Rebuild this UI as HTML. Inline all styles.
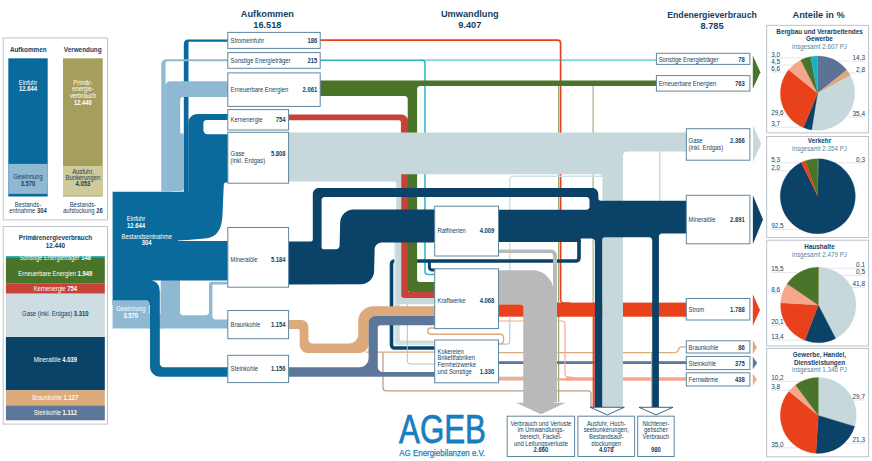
<!DOCTYPE html>
<html><head><meta charset="utf-8"><title>Energieflussbild</title>
<style>
html,body{margin:0;padding:0;background:#fff;}
body{width:872px;height:461px;overflow:hidden;font-family:"Liberation Sans",sans-serif;}
svg{display:block;font-family:"Liberation Sans",sans-serif;}
</style></head><body>
<svg width="872" height="461" viewBox="0 0 872 461">
<path d="M320,40.2 H557.6 a3,3 0 0 1 3,3 V299.5 a3.5,3.5 0 0 0 3.5,3.5 H570" fill="none" stroke="#e8411b" stroke-width="1.7" />
<path d="M320,60.3 H422 a3,3 0 0 1 3,3 V271.5 a3,3 0 0 0 3,3 H435" fill="none" stroke="#2bb4c6" stroke-width="1.5" />
<path d="M420,60.1 H657" fill="none" stroke="#2bb4c6" stroke-width="1.0" />
<path d="M558.7,85 V402" fill="none" stroke="#6f8b3e" stroke-width="0.9" />
<path d="M593.1,85 V305" fill="none" stroke="#8a9a62" stroke-width="0.9" />
<path d="M603,176.2 H513.3 a3.5,3.5 0 0 0 -3.5,3.5 V271" fill="none" stroke="#d0dfe2" stroke-width="1.5" />
<path d="M659.7,151 V201" fill="none" stroke="#cfdde1" stroke-width="1.6" />
<path d="M579,240 V258 a3,3 0 0 1 -3,3 H394.5 a3,3 0 0 0 -3,3 V345 a3,3 0 0 0 3,3 H435" fill="none" stroke="#0a4268" stroke-width="3.6" />
<path d="M429.4,261 V267.2 a2.8,2.8 0 0 0 2.8,2.8 H435" fill="none" stroke="#0a4268" stroke-width="3.0" />
<rect x="149.00" y="314.00" width="13.00" height="14.60" fill="#8fb9d3" />
<path d="M160.50,328.60 L160.50,280.00 L180.00,280.00 L180.00,312.30 C180.00,313.96 181.34,315.30 183.00,315.30 L206.00,315.30 C207.66,315.30 209.00,313.96 209.00,312.30 L209.00,284.30 C209.00,282.92 210.12,281.80 211.50,281.80 L228.00,281.80 L228.00,284.50 L213.40,284.50 C212.85,284.50 212.40,284.95 212.40,285.50 L212.40,316.40 C212.40,318.06 213.74,319.40 215.40,319.40 L228.00,319.40 L228.00,328.60 Z" fill="#8fb9d3" />
<path d="M228.00,39.50 L187.80,39.50 C185.59,39.50 183.80,41.29 183.80,43.50 L183.80,193.00 L188.50,193.00 L188.50,42.80 C188.50,42.25 188.95,41.80 189.50,41.80 L228.00,41.80 Z" fill="#0b6a9c" />
<path d="M228.00,114.10 L197.30,114.10 C192.33,114.10 188.30,118.13 188.30,123.10 L188.30,191.80 L112.60,191.80 L112.60,305.00 L150.00,305.00 L150.00,366.80 C150.00,372.32 154.48,376.80 160.00,376.80 L228.00,376.80 L228.00,367.20 L163.80,367.20 C161.59,367.20 159.80,365.41 159.80,363.20 L159.80,280.60 L228.00,280.60 L228.00,134.30 L207.40,134.30 C205.19,134.30 203.40,132.51 203.40,130.30 L203.40,123.00 C203.40,121.34 204.74,120.00 206.40,120.00 L228.00,120.00 Z" fill="#0b6a9c" />
<path d="M112.60,300.30 L146.50,300.30 C148.16,300.30 149.50,301.64 149.50,303.30 L149.50,328.60 L112.60,328.60 Z" fill="#8fb9d3" />
<path d="M228.5,182.6 L226,182.6 Q223.9,182.6 223.8,184.5 L222.9,204.7 C222.6,215 222.3,219 221.7,222 C220.8,227 219.8,229 218.6,230.7 C217,233.2 215.5,234.8 213.4,236 C210.5,237.7 208,238.3 204.7,238.6 L187.4,240 L178,240.5 L178,240.9 L228.5,240.9 Z" fill="#fff"/>
<path d="M151.5,280.6 L160.4,280.6 L160.4,291 L159.8,291 C159.8,285.5 157,281.6 151.5,280.6 Z" fill="#fff"/>
<path d="M228.00,59.30 L166.30,59.30 C163.54,59.30 161.30,61.54 161.30,64.30 L161.30,191.80 L165.50,191.80 L165.50,63.30 C165.50,62.20 166.40,61.30 167.50,61.30 L228.00,61.30 Z" fill="#8fb9d3" />
<path d="M228.00,81.20 L170.20,81.20 C167.44,81.20 165.20,83.44 165.20,86.20 L165.20,191.80 L172.00,191.80 L172.00,190.90 L181.00,190.90 C182.66,190.90 184.00,189.56 184.00,187.90 L184.00,135.00 C184.00,134.17 183.33,133.50 182.50,133.50 L181.70,133.50 C180.87,133.50 180.20,132.83 180.20,132.00 L180.20,99.90 C180.20,98.24 181.54,96.90 183.20,96.90 L228.00,96.90 Z" fill="#8fb9d3" />
<path d="M288.60,114.50 L401.20,114.50 C405.07,114.50 408.20,117.63 408.20,121.50 L408.20,291.80 L435.00,291.80 L435.00,298.00 L402.90,298.00 C401.80,298.00 400.90,297.10 400.90,296.00 L400.90,122.30 C400.90,121.20 400.00,120.30 398.90,120.30 L288.60,120.30 Z" fill="#c9423a" />
<path d="M320.00,80.50 L657.00,80.50 L657.00,86.00 L420.10,86.00 C418.44,86.00 417.10,87.34 417.10,89.00 L417.10,279.80 C417.10,281.02 418.08,282.00 419.30,282.00 L435.00,282.00 L435.00,291.90 L410.20,291.90 C408.82,291.90 407.70,290.78 407.70,289.40 L407.70,99.00 C407.70,97.34 406.36,96.00 404.70,96.00 L320.00,96.00 Z" fill="#4a7429" />
<path d="M394.20,240.00 L399.60,240.00 L399.60,339.30 C399.60,340.13 400.27,340.80 401.10,340.80 L435.00,340.80 L435.00,344.90 L397.20,344.90 C395.54,344.90 394.20,343.56 394.20,341.90 Z" fill="#d6e4e7" />
<path d="M396.40,240.00 L399.60,240.00 L399.60,339.30 C399.60,340.13 400.27,340.80 401.10,340.80 L435.00,340.80 L435.00,343.00 L398.40,343.00 C397.30,343.00 396.40,342.10 396.40,341.00 Z" fill="#cddcdf" />
<rect x="498.50" y="304.20" width="61.50" height="12.50" fill="#e8411b" />
<rect x="556.00" y="302.60" width="131.00" height="14.10" fill="#e8411b" />
<rect x="498.50" y="378.10" width="71.50" height="2.40" fill="#f5a78d" />
<rect x="566.00" y="377.20" width="121.00" height="3.50" fill="#f5a78d" />
<path d="M498.5,377.3 H525" fill="none" stroke="#b4b4b4" stroke-width="1.2" />
<rect x="498.50" y="361.20" width="188.50" height="2.80" fill="#5c7799" />
<path d="M498.5,352.6 H674 c3,0 4,-1 4.5,-3 c0.5,-2 1.5,-2.8 4,-2.8 H687" fill="none" stroke="#dcaa7b" stroke-width="1.3" />
<path d="M498.5,321 H561.5 a3.5,3.5 0 0 1 3.5,3.5 V373.5 a3.5,3.5 0 0 0 3.5,3.5 H572" fill="none" stroke="#f5a78d" stroke-width="1.2" />
<path d="M593.7,316 V407" fill="none" stroke="#e8411b" stroke-width="2.1" />
<path d="M651.7,353 V407" fill="none" stroke="#c4a98f" stroke-width="1.1" />
<path d="M509.8,316.5 V341.2 a3,3 0 0 1 -3,3 H498.5" fill="none" stroke="#b5d0d8" stroke-width="1.3" />
<path d="M435,328 H430.8 a3.1,3.1 0 0 0 0,6.2 H500.5 a3,3 0 0 1 3,3 V340.8 a3,3 0 0 1 -3,3 H498.5" fill="none" stroke="#dcaa7b" stroke-width="1.4" />
<path d="M407.3,304 V361 a3,3 0 0 0 3,3 H435" fill="none" stroke="#b8c2b4" stroke-width="1.0" />
<path d="M383,352 V387.8 a3,3 0 0 0 3,3 H588 a3,3 0 0 1 3,3 V407" fill="none" stroke="#b7a08c" stroke-width="1.3" />
<path d="M366,352.1 H435" fill="none" stroke="#dcaa7b" stroke-width="1.4" />
<path d="M288.60,132.60 L687.00,132.60 L687.00,151.50 L627.00,151.50 C624.79,151.50 623.00,153.29 623.00,155.50 L623.00,407.30 L602.00,407.30 L602.39,177.20 C602.40,175.54 601.06,174.20 599.40,174.20 L401.30,174.20 L401.30,295.50 C401.30,296.88 402.42,298.00 403.80,298.00 L435.00,298.00 L435.00,304.30 L398.80,304.30 C397.42,304.30 396.30,303.18 396.30,301.80 L396.30,183.40 C396.30,182.30 395.40,181.40 394.30,181.40 L288.60,181.40 Z" fill="#c6d8dc" />
<path d="M498.50,249.60 L551.00,249.60 C554.31,249.60 557.00,252.29 557.00,255.60 L557.00,402.30 L553.00,402.30 L553.00,255.40 C553.00,254.02 551.88,252.90 550.50,252.90 L498.50,252.90 Z" fill="#b9b9b9" />
<path d="M498.50,270.20 L532.50,270.20 C544.10,270.20 553.50,279.60 553.50,291.20 L553.50,402.80 L565.50,402.80 L541.00,414.30 L516.00,402.80 L523.30,402.80 L523.30,307.40 C523.30,305.74 521.96,304.40 520.30,304.40 L498.50,304.40 Z" fill="#b9b9b9" />
<path d="M288.60,241.60 L310.80,241.60 C311.90,241.60 312.80,240.70 312.80,239.60 L312.80,194.10 C312.80,190.79 315.49,188.10 318.80,188.10 L592.30,188.10 C595.61,188.10 598.30,190.79 598.30,194.10 L598.30,198.20 C598.30,199.58 599.42,200.70 600.80,200.70 L687.00,200.70 L687.00,233.40 L661.90,233.40 C660.24,233.40 658.90,234.74 658.90,236.40 L658.90,407.30 L652.20,407.30 L652.20,240.20 C652.20,238.54 650.86,237.20 649.20,237.20 L604.70,237.20 C603.32,237.20 602.20,238.32 602.20,239.70 L602.20,407.30 L594.90,407.30 L594.90,241.60 C594.90,239.94 593.56,238.60 591.90,238.60 L580.80,238.60 L580.80,241.90 L498.50,241.90 L498.50,209.70 L586.50,209.70 C588.16,209.70 589.50,208.36 589.50,206.70 L589.50,200.00 C589.50,198.34 588.16,197.00 586.50,197.00 L324.60,197.00 C322.94,197.00 321.60,198.34 321.60,200.00 L321.60,247.20 C321.60,248.30 322.50,249.20 323.60,249.20 L336.00,249.20 C337.93,249.20 339.54,247.63 339.59,245.70 L340.17,222.60 C340.35,215.42 346.32,209.60 353.50,209.60 L435.00,209.60 L435.00,242.40 L381.80,242.40 C377.93,242.40 374.73,245.53 374.63,249.40 L374.11,271.20 C373.94,278.38 367.98,284.22 360.80,284.25 L288.60,284.50 Z" fill="#0a4268" />
<path d="M288.60,319.90 L301.40,319.90 C305.27,319.90 308.40,323.03 308.40,326.90 L308.40,339.60 C308.40,341.81 310.19,343.60 312.40,343.60 L349.20,343.60 C354.17,343.60 358.20,339.57 358.20,334.60 L358.20,321.20 C358.20,312.92 364.92,306.20 373.20,306.20 L435.00,306.20 L435.00,316.20 L375.60,316.20 C371.73,316.20 368.60,319.33 368.60,323.20 L368.60,344.10 C368.60,349.07 364.57,353.10 359.60,353.10 L308.40,353.10 C303.59,353.10 299.70,349.21 299.70,344.40 L299.70,331.10 C299.70,330.00 298.80,329.10 297.70,329.10 L288.60,329.10 Z" fill="#dcaa7b" />
<path d="M288.60,367.20 L359.60,367.20 C364.57,367.20 368.60,363.17 368.60,358.20 L368.60,323.00 C368.60,319.13 371.73,316.00 375.60,316.00 L435.00,316.00 L435.00,325.30 L380.30,325.30 C378.92,325.30 377.80,326.42 377.80,327.80 L377.80,367.00 C377.80,369.76 380.04,372.00 382.80,372.00 L435.00,372.00 L435.00,376.80 L288.60,376.80 Z" fill="#5c7799" />
<path d="M590.2,407.3 H624.3 L607.3,414.9 Z" fill="#fff" stroke="#0a4268" stroke-width="0.8" stroke-linejoin="miter"/>
<path d="M639,407.3 H673 L656,414.9 Z" fill="#fff" stroke="#0a4268" stroke-width="0.8"/>
<path d="M752.8,55.6 L760.4,72.20 L752.8,88.8 Z" fill="#4a7429"/>
<path d="M753,125.5 L761.2,143.75 L753,162 Z" fill="#c6d8dc"/>
<path d="M752.9,195.3 L763,219.60 L752.9,243.9 Z" fill="#0a4268"/>
<path d="M752.8,294.3 L760,310.05 L752.8,325.8 Z" fill="#e8411b"/>
<path d="M752.8,340.1 L756.8,347.25 L752.8,354.4 Z" fill="#dcaa7b"/>
<path d="M752.8,356.8 L757.2,363.00 L752.8,369.2 Z" fill="#5c7799"/>
<path d="M752.8,373.5 L757,379.50 L752.8,385.5 Z" fill="#f5a78d"/>
<rect x="227.80" y="32.40" width="92.40" height="16.00" fill="#fff" stroke="#5f86a0" stroke-width="1"/>
<text transform="translate(230.60,42.60) scale(0.93,1)" font-size="6.3" text-anchor="start" fill="#123f63" >Stromeinfuhr</text>
<text transform="translate(317.20,42.60) scale(0.93,1)" font-size="6.3" text-anchor="end" fill="#123f63" font-weight="700" >186</text>
<rect x="227.80" y="52.60" width="92.40" height="15.70" fill="#fff" stroke="#5f86a0" stroke-width="1"/>
<text transform="translate(230.60,62.65) scale(0.93,1)" font-size="6.3" text-anchor="start" fill="#123f63" >Sonstige Energieträger</text>
<text transform="translate(317.20,62.65) scale(0.93,1)" font-size="6.3" text-anchor="end" fill="#123f63" font-weight="700" >215</text>
<rect x="227.80" y="72.90" width="92.40" height="33.50" fill="#fff" stroke="#5f86a0" stroke-width="1"/>
<text transform="translate(230.60,91.85) scale(0.93,1)" font-size="6.3" text-anchor="start" fill="#123f63" >Erneuerbare Energien</text>
<text transform="translate(317.20,91.85) scale(0.93,1)" font-size="6.3" text-anchor="end" fill="#123f63" font-weight="700" >2.061</text>
<rect x="227.80" y="109.60" width="60.80" height="20.40" fill="#fff" stroke="#5f86a0" stroke-width="1"/>
<text transform="translate(230.60,122.00) scale(0.93,1)" font-size="6.3" text-anchor="start" fill="#123f63" >Kernenergie</text>
<text transform="translate(285.60,122.00) scale(0.93,1)" font-size="6.3" text-anchor="end" fill="#123f63" font-weight="700" >754</text>
<rect x="227.80" y="132.30" width="60.80" height="50.90" fill="#fff" stroke="#5f86a0" stroke-width="1"/>
<text transform="translate(230.60,155.90) scale(0.93,1)" font-size="6.3" text-anchor="start" fill="#123f63" >Gase</text>
<text transform="translate(285.60,155.90) scale(0.93,1)" font-size="6.3" text-anchor="end" fill="#123f63" font-weight="700" >5.808</text>
<text transform="translate(230.60,162.70) scale(0.93,1)" font-size="6.3" text-anchor="start" fill="#123f63" >(inkl. Erdgas)</text>
<rect x="227.80" y="227.50" width="60.80" height="59.70" fill="#fff" stroke="#5f86a0" stroke-width="1"/>
<text transform="translate(230.60,262.20) scale(0.93,1)" font-size="6.3" text-anchor="start" fill="#123f63" >Mineralöle</text>
<text transform="translate(285.60,262.20) scale(0.93,1)" font-size="6.3" text-anchor="end" fill="#123f63" font-weight="700" >5.184</text>
<rect x="227.80" y="310.50" width="60.80" height="28.20" fill="#fff" stroke="#5f86a0" stroke-width="1"/>
<text transform="translate(230.60,326.80) scale(0.93,1)" font-size="6.3" text-anchor="start" fill="#123f63" >Braunkohle</text>
<text transform="translate(285.60,326.80) scale(0.93,1)" font-size="6.3" text-anchor="end" fill="#123f63" font-weight="700" >1.154</text>
<rect x="227.80" y="355.30" width="60.80" height="27.30" fill="#fff" stroke="#5f86a0" stroke-width="1"/>
<text transform="translate(230.60,371.15) scale(0.93,1)" font-size="6.3" text-anchor="start" fill="#123f63" >Steinkohle</text>
<text transform="translate(285.60,371.15) scale(0.93,1)" font-size="6.3" text-anchor="end" fill="#123f63" font-weight="700" >1.156</text>
<rect x="434.70" y="206.20" width="63.80" height="49.80" fill="#fff" stroke="#5f86a0" stroke-width="1"/>
<text transform="translate(437.50,233.30) scale(0.93,1)" font-size="6.3" text-anchor="start" fill="#123f63" >Raffinerien</text>
<text transform="translate(494.30,233.30) scale(0.93,1)" font-size="6.3" text-anchor="end" fill="#123f63" font-weight="700" >4.009</text>
<rect x="434.70" y="268.80" width="63.80" height="59.80" fill="#fff" stroke="#5f86a0" stroke-width="1"/>
<text transform="translate(437.50,302.60) scale(0.93,1)" font-size="6.3" text-anchor="start" fill="#123f63" >Kraftwerke</text>
<text transform="translate(494.30,302.60) scale(0.93,1)" font-size="6.3" text-anchor="end" fill="#123f63" font-weight="700" >4.068</text>
<rect x="434.70" y="340.00" width="63.80" height="42.80" fill="#fff" stroke="#5f86a0" stroke-width="1"/>
<text transform="translate(437.50,353.50) scale(0.93,1)" font-size="6.3" text-anchor="start" fill="#123f63" >Kokereien</text>
<text transform="translate(437.50,360.30) scale(0.93,1)" font-size="6.3" text-anchor="start" fill="#123f63" >Brikettfabriken</text>
<text transform="translate(437.50,367.10) scale(0.93,1)" font-size="6.3" text-anchor="start" fill="#123f63" >Fernheizwerke</text>
<text transform="translate(437.50,373.80) scale(0.93,1)" font-size="6.3" text-anchor="start" fill="#123f63" >und Sonstige</text>
<text transform="translate(494.30,373.80) scale(0.93,1)" font-size="6.3" text-anchor="end" fill="#123f63" font-weight="700" >1.330</text>
<rect x="656.40" y="53.30" width="93.50" height="11.10" fill="#fff" stroke="#5f86a0" stroke-width="1"/>
<text transform="translate(658.70,61.75) scale(0.93,1)" font-size="6.3" text-anchor="start" fill="#123f63" >Sonstige Energieträger</text>
<text transform="translate(744.70,61.75) scale(0.93,1)" font-size="6.3" text-anchor="end" fill="#123f63" font-weight="700" >78</text>
<rect x="656.40" y="75.60" width="93.50" height="15.50" fill="#fff" stroke="#5f86a0" stroke-width="1"/>
<text transform="translate(658.70,86.25) scale(0.93,1)" font-size="6.3" text-anchor="start" fill="#123f63" >Erneuerbare Energien</text>
<text transform="translate(744.70,86.25) scale(0.93,1)" font-size="6.3" text-anchor="end" fill="#123f63" font-weight="700" >763</text>
<rect x="686.30" y="128.70" width="63.60" height="31.50" fill="#fff" stroke="#5f86a0" stroke-width="1"/>
<text transform="translate(688.60,143.10) scale(0.93,1)" font-size="6.3" text-anchor="start" fill="#123f63" >Gase</text>
<text transform="translate(744.70,143.10) scale(0.93,1)" font-size="6.3" text-anchor="end" fill="#123f63" font-weight="700" >2.366</text>
<text transform="translate(688.60,149.80) scale(0.93,1)" font-size="6.3" text-anchor="start" fill="#123f63" >(inkl. Erdgas)</text>
<rect x="686.30" y="195.30" width="63.60" height="48.50" fill="#fff" stroke="#5f86a0" stroke-width="1"/>
<text transform="translate(688.60,222.45) scale(0.93,1)" font-size="6.3" text-anchor="start" fill="#123f63" >Mineralöle</text>
<text transform="translate(744.70,222.45) scale(0.93,1)" font-size="6.3" text-anchor="end" fill="#123f63" font-weight="700" >2.891</text>
<rect x="686.30" y="298.50" width="63.60" height="21.50" fill="#fff" stroke="#5f86a0" stroke-width="1"/>
<text transform="translate(688.60,312.15) scale(0.93,1)" font-size="6.3" text-anchor="start" fill="#123f63" >Strom</text>
<text transform="translate(744.70,312.15) scale(0.93,1)" font-size="6.3" text-anchor="end" fill="#123f63" font-weight="700" >1.788</text>
<rect x="686.30" y="340.80" width="63.60" height="12.20" fill="#fff" stroke="#5f86a0" stroke-width="1"/>
<text transform="translate(688.60,349.80) scale(0.93,1)" font-size="6.3" text-anchor="start" fill="#123f63" >Braunkohle</text>
<text transform="translate(744.70,349.80) scale(0.93,1)" font-size="6.3" text-anchor="end" fill="#123f63" font-weight="700" >86</text>
<rect x="686.30" y="356.40" width="63.60" height="13.20" fill="#fff" stroke="#5f86a0" stroke-width="1"/>
<text transform="translate(688.60,365.90) scale(0.93,1)" font-size="6.3" text-anchor="start" fill="#123f63" >Steinkohle</text>
<text transform="translate(744.70,365.90) scale(0.93,1)" font-size="6.3" text-anchor="end" fill="#123f63" font-weight="700" >375</text>
<rect x="686.30" y="372.80" width="63.60" height="13.20" fill="#fff" stroke="#5f86a0" stroke-width="1"/>
<text transform="translate(688.60,382.30) scale(0.93,1)" font-size="6.3" text-anchor="start" fill="#123f63" >Fernwärme</text>
<text transform="translate(744.70,382.30) scale(0.93,1)" font-size="6.3" text-anchor="end" fill="#123f63" font-weight="700" >438</text>
<rect x="507.20" y="416.20" width="67.40" height="40.30" fill="#fff" stroke="#5f86a0" stroke-width="1"/>
<text transform="translate(540.90,425.60) scale(0.93,1)" font-size="6.3" text-anchor="middle" fill="#123f63" >Verbrauch und Verluste</text>
<text transform="translate(540.90,432.40) scale(0.93,1)" font-size="6.3" text-anchor="middle" fill="#123f63" >im Umwandlungs-</text>
<text transform="translate(540.90,439.20) scale(0.93,1)" font-size="6.3" text-anchor="middle" fill="#123f63" >bereich, Fackel-</text>
<text transform="translate(540.90,446.00) scale(0.93,1)" font-size="6.3" text-anchor="middle" fill="#123f63" >und Leitungsverluste</text>
<text transform="translate(540.90,452.20) scale(0.93,1)" font-size="6.3" text-anchor="middle" fill="#123f63" font-weight="700" >2.660</text>
<rect x="577.90" y="416.20" width="56.70" height="40.30" fill="#fff" stroke="#5f86a0" stroke-width="1"/>
<text transform="translate(606.25,425.60) scale(0.93,1)" font-size="6.3" text-anchor="middle" fill="#123f63" >Ausfuhr, Hoch-</text>
<text transform="translate(606.25,432.40) scale(0.93,1)" font-size="6.3" text-anchor="middle" fill="#123f63" >seebunkerungen,</text>
<text transform="translate(606.25,439.20) scale(0.93,1)" font-size="6.3" text-anchor="middle" fill="#123f63" >Bestandsauf-</text>
<text transform="translate(606.25,446.00) scale(0.93,1)" font-size="6.3" text-anchor="middle" fill="#123f63" >stockungen</text>
<text transform="translate(606.25,452.20) scale(0.93,1)" font-size="6.3" text-anchor="middle" fill="#123f63" font-weight="700" >4.078</text>
<rect x="637.70" y="416.20" width="36.50" height="40.30" fill="#fff" stroke="#5f86a0" stroke-width="1"/>
<text transform="translate(655.95,425.60) scale(0.93,1)" font-size="6.3" text-anchor="middle" fill="#123f63" >Nichtener-</text>
<text transform="translate(655.95,432.40) scale(0.93,1)" font-size="6.3" text-anchor="middle" fill="#123f63" >getischer</text>
<text transform="translate(655.95,439.20) scale(0.93,1)" font-size="6.3" text-anchor="middle" fill="#123f63" >Verbrauch</text>
<text transform="translate(655.95,452.20) scale(0.93,1)" font-size="6.3" text-anchor="middle" fill="#123f63" font-weight="700" >980</text>
<text transform="translate(136.00,220.60) scale(0.93,1)" font-size="6.3" text-anchor="middle" fill="#fff" >Einfuhr</text>
<text transform="translate(136.00,227.60) scale(0.93,1)" font-size="6.3" text-anchor="middle" fill="#fff" font-weight="700" >12.644</text>
<text transform="translate(146.70,238.60) scale(0.93,1)" font-size="6.3" text-anchor="middle" fill="#fff" >Bestandsentnahme</text>
<text transform="translate(146.70,245.40) scale(0.93,1)" font-size="6.3" text-anchor="middle" fill="#fff" font-weight="700" >304</text>
<text transform="translate(130.80,310.60) scale(0.93,1)" font-size="6.3" text-anchor="middle" fill="#fff" >Gewinnung</text>
<text transform="translate(130.80,317.60) scale(0.93,1)" font-size="6.3" text-anchor="middle" fill="#fff" font-weight="700" >3.570</text>
<text transform="translate(267.40,16.80) scale(0.97,1)" font-size="9.5" text-anchor="middle" fill="#123f63" font-weight="700" >Aufkommen</text>
<text transform="translate(267.40,27.70) scale(0.97,1)" font-size="9.5" text-anchor="middle" fill="#123f63" font-weight="700" >16.518</text>
<text transform="translate(469.80,16.80) scale(0.97,1)" font-size="9.5" text-anchor="middle" fill="#123f63" font-weight="700" >Umwandlung</text>
<text transform="translate(469.80,27.70) scale(0.97,1)" font-size="9.5" text-anchor="middle" fill="#123f63" font-weight="700" >9.407</text>
<text transform="translate(712.00,18.20) scale(0.92,1)" font-size="9.5" text-anchor="middle" fill="#123f63" font-weight="700" >Endenergieverbrauch</text>
<text transform="translate(712.00,29.10) scale(0.97,1)" font-size="9.5" text-anchor="middle" fill="#123f63" font-weight="700" >8.785</text>
<text transform="translate(818.60,18.20) scale(0.97,1)" font-size="9.5" text-anchor="middle" fill="#123f63" font-weight="700" >Anteile in %</text>
<rect x="3.2" y="38" width="104.3" height="181.9" fill="#fff" stroke="#b3bcc4" stroke-width="0.9"/>
<text transform="translate(9.90,51.80) scale(0.95,1)" font-size="6.7" text-anchor="start" fill="#123f63" font-weight="700" >Aufkommen</text>
<text transform="translate(63.80,51.80) scale(0.95,1)" font-size="6.7" text-anchor="start" fill="#123f63" font-weight="700" >Verwendung</text>
<rect x="8.30" y="58.30" width="39.40" height="138.20" fill="#0b6a9c" />
<rect x="8.30" y="163.90" width="39.40" height="30.00" fill="#8fb9d3" />
<rect x="63.00" y="58.30" width="39.70" height="138.20" fill="#a69e5c" />
<rect x="63.00" y="166.00" width="39.70" height="29.60" fill="#cfca9a" />
<text transform="translate(28.00,84.60) scale(0.93,1)" font-size="6.3" text-anchor="middle" fill="#fff" >Einfuhr</text>
<text transform="translate(28.00,91.00) scale(0.93,1)" font-size="6.3" text-anchor="middle" fill="#fff" font-weight="700" >12.644</text>
<text transform="translate(82.90,84.60) scale(0.93,1)" font-size="6.3" text-anchor="middle" fill="#fff" >Primär-</text>
<text transform="translate(82.90,91.20) scale(0.93,1)" font-size="6.3" text-anchor="middle" fill="#fff" >energie-</text>
<text transform="translate(82.90,97.70) scale(0.93,1)" font-size="6.3" text-anchor="middle" fill="#fff" >verbrauch</text>
<text transform="translate(82.90,104.80) scale(0.93,1)" font-size="6.3" text-anchor="middle" fill="#fff" font-weight="700" >12.440</text>
<text transform="translate(28.00,178.60) scale(0.93,1)" font-size="6.3" text-anchor="middle" fill="#123f63" >Gewinnung</text>
<text transform="translate(28.00,185.50) scale(0.93,1)" font-size="6.3" text-anchor="middle" fill="#123f63" font-weight="700" >3.570</text>
<text transform="translate(82.90,174.20) scale(0.93,1)" font-size="6.3" text-anchor="middle" fill="#123f63" >Ausfuhr,</text>
<text transform="translate(82.90,180.10) scale(0.93,1)" font-size="6.3" text-anchor="middle" fill="#123f63" >Bunkerungen</text>
<text transform="translate(82.90,186.20) scale(0.93,1)" font-size="6.3" text-anchor="middle" fill="#123f63" font-weight="700" >4.053</text>
<text transform="translate(28.00,206.50) scale(0.93,1)" font-size="6.3" text-anchor="middle" fill="#123f63" >Bestands-</text>
<text transform="translate(28,213) scale(0.93,1)" font-size="6.3" text-anchor="middle" fill="#123f63">entnahme <tspan font-weight="700">304</tspan></text>
<text transform="translate(82.90,206.50) scale(0.93,1)" font-size="6.3" text-anchor="middle" fill="#123f63" >Bestands-</text>
<text transform="translate(82.9,213) scale(0.93,1)" font-size="6.3" text-anchor="middle" fill="#123f63">aufstockung <tspan font-weight="700">26</tspan></text>
<rect x="3.2" y="226.6" width="104.3" height="197.5" fill="#fff" stroke="#b3bcc4" stroke-width="0.9"/>
<text transform="translate(55.40,240.20) scale(0.95,1)" font-size="6.7" text-anchor="middle" fill="#123f63" font-weight="700" >Primärenergieverbrauch</text>
<text transform="translate(55.40,247.80) scale(0.95,1)" font-size="6.7" text-anchor="middle" fill="#123f63" font-weight="700" >12.440</text>
<clipPath id="stk"><rect x="5.7" y="255.9" width="99.2" height="165"/></clipPath>
<g clip-path="url(#stk)">
<rect x="5.70" y="255.90" width="99.20" height="1.40" fill="#2bb4c6" />
<rect x="5.70" y="257.20" width="99.20" height="26.00" fill="#4a7429" />
<rect x="5.70" y="283.20" width="99.20" height="10.50" fill="#c9423a" />
<rect x="5.70" y="293.70" width="99.20" height="43.30" fill="#cddde1" />
<rect x="5.70" y="337.00" width="99.20" height="53.30" fill="#0a4268" />
<rect x="5.70" y="390.30" width="99.20" height="15.10" fill="#dcaa7b" />
<rect x="5.70" y="405.40" width="99.20" height="14.90" fill="#5c7799" />
<text transform="translate(55.3,259.6) scale(0.93,1)" font-size="6.3" text-anchor="middle" fill="#fff">Sonstige Energieträger <tspan font-weight="700">148</tspan></text>
<text transform="translate(55.3,275.6) scale(0.93,1)" font-size="6.3" text-anchor="middle" fill="#fff">Erneuerbare Energien <tspan font-weight="700">1.949</tspan></text>
<text transform="translate(55.3,290.7) scale(0.93,1)" font-size="6.3" text-anchor="middle" fill="#fff">Kernenergie <tspan font-weight="700">754</tspan></text>
<text transform="translate(55.3,316.4) scale(0.93,1)" font-size="6.3" text-anchor="middle" fill="#123f63">Gase (inkl. Erdgas) <tspan font-weight="700"> 3.310</tspan></text>
<text transform="translate(55.3,361.8) scale(0.93,1)" font-size="6.3" text-anchor="middle" fill="#fff">Mineralöle <tspan font-weight="700">4.039</tspan></text>
<text transform="translate(55.3,400.2) scale(0.93,1)" font-size="6.3" text-anchor="middle" fill="#fff">Braunkohle <tspan font-weight="700">1.127</tspan></text>
<text transform="translate(55.3,415.4) scale(0.93,1)" font-size="6.3" text-anchor="middle" fill="#fff">Steinkohle <tspan font-weight="700">1.112</tspan></text>
</g>
<rect x="766.7" y="25.3" width="101.9" height="107.6" fill="#fff" stroke="#b3bcc4" stroke-width="0.9"/>
<text transform="translate(819.50,33.90) scale(0.95,1)" font-size="6.7" text-anchor="middle" fill="#123f63" font-weight="700" >Bergbau und Verarbeitendes</text>
<text transform="translate(819.50,41.20) scale(0.95,1)" font-size="6.7" text-anchor="middle" fill="#123f63" font-weight="700" >Gewerbe</text>
<text transform="translate(819.50,48.80) scale(0.95,1)" font-size="6.6" text-anchor="middle" fill="#5b7f97" >insgesamt 2.607 PJ</text>
<text transform="translate(771.20,56.60) scale(0.93,1)" font-size="6.9" text-anchor="start" fill="#123f63" >3,0</text>
<path d="M771,57.800000000000004 H812" fill="none" stroke="#c7ced4" stroke-width="0.5" />
<text transform="translate(771.20,63.90) scale(0.93,1)" font-size="6.9" text-anchor="start" fill="#123f63" >4,5</text>
<path d="M771,65.1 H800" fill="none" stroke="#c7ced4" stroke-width="0.5" />
<text transform="translate(771.20,70.90) scale(0.93,1)" font-size="6.9" text-anchor="start" fill="#123f63" >6,6</text>
<path d="M771,72.10000000000001 H790" fill="none" stroke="#c7ced4" stroke-width="0.5" />
<text transform="translate(771.20,114.60) scale(0.93,1)" font-size="6.9" text-anchor="start" fill="#123f63" >29,6</text>
<path d="M771,115.8 H786" fill="none" stroke="#c7ced4" stroke-width="0.5" />
<text transform="translate(771.20,126.00) scale(0.93,1)" font-size="6.9" text-anchor="start" fill="#123f63" >3,7</text>
<path d="M771,127.2 H812" fill="none" stroke="#c7ced4" stroke-width="0.5" />
<text transform="translate(865.00,60.00) scale(0.93,1)" font-size="6.9" text-anchor="end" fill="#123f63" >14,3</text>
<path d="M865,61.2 H830" fill="none" stroke="#c7ced4" stroke-width="0.5" />
<text transform="translate(865.00,71.70) scale(0.93,1)" font-size="6.9" text-anchor="end" fill="#123f63" >2,8</text>
<path d="M865,72.9 H848" fill="none" stroke="#c7ced4" stroke-width="0.5" />
<text transform="translate(865.00,115.90) scale(0.93,1)" font-size="6.9" text-anchor="end" fill="#123f63" >35,4</text>
<path d="M865,117.10000000000001 H848" fill="none" stroke="#c7ced4" stroke-width="0.5" />
<path d="M817.6,93.2 L817.60,56.00 A37.2,37.2 0 0 1 846.73,70.06 Z" fill="#5b7495" stroke="#5b7495" stroke-width="0.3"/>
<path d="M817.6,93.2 L846.73,70.06 A37.2,37.2 0 0 1 850.33,75.52 Z" fill="#dcaa7b" stroke="#dcaa7b" stroke-width="0.3"/>
<path d="M817.6,93.2 L850.33,75.52 A37.2,37.2 0 0 1 811.66,129.92 Z" fill="#c6d8dc" stroke="#c6d8dc" stroke-width="0.3"/>
<path d="M817.6,93.2 L811.66,129.92 A37.2,37.2 0 0 1 803.35,127.56 Z" fill="#0a4268" stroke="#0a4268" stroke-width="0.3"/>
<path d="M817.6,93.2 L803.35,127.56 A37.2,37.2 0 0 1 788.77,69.69 Z" fill="#e8411b" stroke="#e8411b" stroke-width="0.3"/>
<path d="M817.6,93.2 L788.77,69.69 A37.2,37.2 0 0 1 800.70,60.06 Z" fill="#f5a78d" stroke="#f5a78d" stroke-width="0.3"/>
<path d="M817.6,93.2 L800.70,60.06 A37.2,37.2 0 0 1 810.62,56.66 Z" fill="#4a7429" stroke="#4a7429" stroke-width="0.3"/>
<path d="M817.6,93.2 L810.62,56.66 A37.2,37.2 0 0 1 817.60,56.00 Z" fill="#17b3c4" stroke="#17b3c4" stroke-width="0.3"/>
<rect x="766.7" y="136.4" width="101.9" height="101.0" fill="#fff" stroke="#b3bcc4" stroke-width="0.9"/>
<text transform="translate(819.50,143.40) scale(0.95,1)" font-size="6.7" text-anchor="middle" fill="#123f63" font-weight="700" >Verkehr</text>
<text transform="translate(819.50,151.00) scale(0.95,1)" font-size="6.6" text-anchor="middle" fill="#5b7f97" >insgesamt 2.354 PJ</text>
<text transform="translate(771.20,161.60) scale(0.93,1)" font-size="6.9" text-anchor="start" fill="#123f63" >5,3</text>
<path d="M771,162.79999999999998 H812" fill="none" stroke="#c7ced4" stroke-width="0.5" />
<text transform="translate(771.20,169.70) scale(0.93,1)" font-size="6.9" text-anchor="start" fill="#123f63" >2,0</text>
<path d="M771,170.89999999999998 H803" fill="none" stroke="#c7ced4" stroke-width="0.5" />
<text transform="translate(771.20,228.40) scale(0.93,1)" font-size="6.9" text-anchor="start" fill="#123f63" >92,5</text>
<path d="M771,229.6 H800" fill="none" stroke="#c7ced4" stroke-width="0.5" />
<text transform="translate(865.00,161.60) scale(0.93,1)" font-size="6.9" text-anchor="end" fill="#123f63" >0,3</text>
<path d="M865,162.79999999999998 H819" fill="none" stroke="#c7ced4" stroke-width="0.5" />
<path d="M817.8,196.2 L817.80,158.70 A37.5,37.5 0 0 1 818.51,158.71 Z" fill="#c6d8dc" stroke="#c6d8dc" stroke-width="0.3"/>
<path d="M817.8,196.2 L818.51,158.71 A37.5,37.5 0 1 1 801.21,162.57 Z" fill="#0a4268" stroke="#0a4268" stroke-width="0.3"/>
<path d="M817.8,196.2 L801.21,162.57 A37.5,37.5 0 0 1 805.55,160.76 Z" fill="#e8411b" stroke="#e8411b" stroke-width="0.3"/>
<path d="M817.8,196.2 L805.55,160.76 A37.5,37.5 0 0 1 817.80,158.70 Z" fill="#4a7429" stroke="#4a7429" stroke-width="0.3"/>
<rect x="766.7" y="240.2" width="101.9" height="105.8" fill="#fff" stroke="#b3bcc4" stroke-width="0.9"/>
<text transform="translate(819.50,249.00) scale(0.95,1)" font-size="6.7" text-anchor="middle" fill="#123f63" font-weight="700" >Haushalte</text>
<text transform="translate(819.50,256.60) scale(0.95,1)" font-size="6.6" text-anchor="middle" fill="#5b7f97" >insgesamt 2.479 PJ</text>
<text transform="translate(771.20,271.20) scale(0.93,1)" font-size="6.9" text-anchor="start" fill="#123f63" >15,5</text>
<path d="M771,272.4 H800" fill="none" stroke="#c7ced4" stroke-width="0.5" />
<text transform="translate(771.20,292.00) scale(0.93,1)" font-size="6.9" text-anchor="start" fill="#123f63" >8,6</text>
<path d="M771,293.2 H788" fill="none" stroke="#c7ced4" stroke-width="0.5" />
<text transform="translate(771.20,324.20) scale(0.93,1)" font-size="6.9" text-anchor="start" fill="#123f63" >20,1</text>
<path d="M771,325.4 H790" fill="none" stroke="#c7ced4" stroke-width="0.5" />
<text transform="translate(771.20,339.00) scale(0.93,1)" font-size="6.9" text-anchor="start" fill="#123f63" >13,4</text>
<path d="M771,340.2 H815" fill="none" stroke="#c7ced4" stroke-width="0.5" />
<text transform="translate(865.00,267.00) scale(0.93,1)" font-size="6.9" text-anchor="end" fill="#123f63" >0,1</text>
<path d="M865,268.2 H819" fill="none" stroke="#c7ced4" stroke-width="0.5" />
<text transform="translate(865.00,274.20) scale(0.93,1)" font-size="6.9" text-anchor="end" fill="#123f63" >0,5</text>
<path d="M865,275.4 H820" fill="none" stroke="#c7ced4" stroke-width="0.5" />
<text transform="translate(865.00,286.20) scale(0.93,1)" font-size="6.9" text-anchor="end" fill="#123f63" >41,8</text>
<path d="M865,287.4 H850" fill="none" stroke="#c7ced4" stroke-width="0.5" />
<path d="M818.3,305 L818.30,267.30 A37.7,37.7 0 0 1 818.54,267.30 Z" fill="#dcaa7b" stroke="#dcaa7b" stroke-width="0.3"/>
<path d="M818.3,305 L818.54,267.30 A37.7,37.7 0 0 1 819.72,267.33 Z" fill="#dcaa7b" stroke="#dcaa7b" stroke-width="0.3"/>
<path d="M818.3,305 L819.72,267.33 A37.7,37.7 0 0 1 835.63,338.48 Z" fill="#c6d8dc" stroke="#c6d8dc" stroke-width="0.3"/>
<path d="M818.3,305 L835.63,338.48 A37.7,37.7 0 0 1 804.86,340.22 Z" fill="#0a4268" stroke="#0a4268" stroke-width="0.3"/>
<path d="M818.3,305 L804.86,340.22 A37.7,37.7 0 0 1 780.66,302.87 Z" fill="#e8411b" stroke="#e8411b" stroke-width="0.3"/>
<path d="M818.3,305 L780.66,302.87 A37.7,37.7 0 0 1 787.12,283.81 Z" fill="#f5a78d" stroke="#f5a78d" stroke-width="0.3"/>
<path d="M818.3,305 L787.12,283.81 A37.7,37.7 0 0 1 818.30,267.30 Z" fill="#4a7429" stroke="#4a7429" stroke-width="0.3"/>
<rect x="766.7" y="348.4" width="101.9" height="108.4" fill="#fff" stroke="#b3bcc4" stroke-width="0.9"/>
<text transform="translate(819.50,357.00) scale(0.95,1)" font-size="6.7" text-anchor="middle" fill="#123f63" font-weight="700" >Gewerbe, Handel,</text>
<text transform="translate(819.50,364.80) scale(0.95,1)" font-size="6.7" text-anchor="middle" fill="#123f63" font-weight="700" >Dienstleistungen</text>
<text transform="translate(819.50,371.80) scale(0.95,1)" font-size="6.6" text-anchor="middle" fill="#5b7f97" >insgesamt 1.346 PJ</text>
<text transform="translate(771.20,380.20) scale(0.93,1)" font-size="6.9" text-anchor="start" fill="#123f63" >10,2</text>
<path d="M771,381.4 H806" fill="none" stroke="#c7ced4" stroke-width="0.5" />
<text transform="translate(771.20,389.20) scale(0.93,1)" font-size="6.9" text-anchor="start" fill="#123f63" >3,8</text>
<path d="M771,390.4 H795" fill="none" stroke="#c7ced4" stroke-width="0.5" />
<text transform="translate(771.20,446.60) scale(0.93,1)" font-size="6.9" text-anchor="start" fill="#123f63" >35,0</text>
<path d="M771,447.8 H800" fill="none" stroke="#c7ced4" stroke-width="0.5" />
<text transform="translate(865.00,399.00) scale(0.93,1)" font-size="6.9" text-anchor="end" fill="#123f63" >29,7</text>
<path d="M865,400.2 H850" fill="none" stroke="#c7ced4" stroke-width="0.5" />
<text transform="translate(865.00,442.20) scale(0.93,1)" font-size="6.9" text-anchor="end" fill="#123f63" >21,3</text>
<path d="M865,443.4 H845" fill="none" stroke="#c7ced4" stroke-width="0.5" />
<path d="M818.3,415.4 L818.30,377.40 A38,38 0 0 1 854.66,426.46 Z" fill="#c6d8dc" stroke="#c6d8dc" stroke-width="0.3"/>
<path d="M818.3,415.4 L854.66,426.46 A38,38 0 0 1 815.91,453.33 Z" fill="#0a4268" stroke="#0a4268" stroke-width="0.3"/>
<path d="M818.3,415.4 L815.91,453.33 A38,38 0 0 1 789.02,391.18 Z" fill="#e8411b" stroke="#e8411b" stroke-width="0.3"/>
<path d="M818.3,415.4 L789.02,391.18 A38,38 0 0 1 795.58,384.94 Z" fill="#f5a78d" stroke="#f5a78d" stroke-width="0.3"/>
<path d="M818.3,415.4 L795.58,384.94 A38,38 0 0 1 818.30,377.40 Z" fill="#4a7429" stroke="#4a7429" stroke-width="0.3"/>
<text x="399" y="443" font-size="40" fill="#1a7dbd" stroke="#1a7dbd" stroke-width="0.75" textLength="87" lengthAdjust="spacingAndGlyphs">AGEB</text>
<text x="399.3" y="455.6" font-size="8.8" fill="#1a7dbd" stroke="#1a7dbd" stroke-width="0.25" textLength="86" lengthAdjust="spacingAndGlyphs">AG Energiebilanzen e.V.</text>
</svg>
</body></html>
